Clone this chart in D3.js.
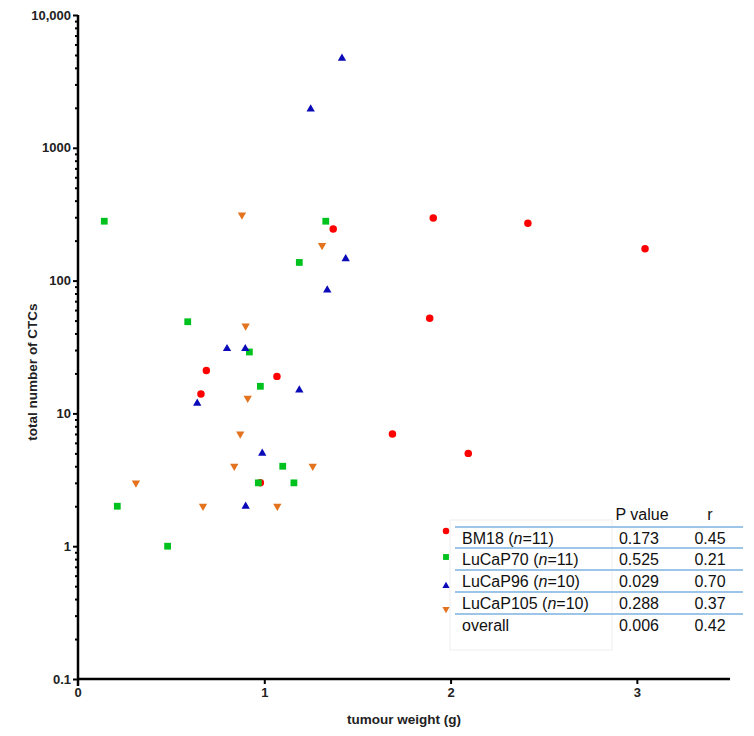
<!DOCTYPE html>
<html><head><meta charset="utf-8">
<script src="https://cdn.jsdelivr.net/npm/d3@7"></script>
<style>body{margin:0;background:#fff}svg{display:block}</style>
</head><body>
<svg id="c" width="754" height="736"></svg>
<script>
// ---- data ----
const seriesNames = ["BM18 (n=11)", "LuCaP70 (n=11)", "LuCaP96 (n=10)", "LuCaP105 (n=10)"];
const bm18X = [1.37, 1.907, 2.415, 3.044, 1.888, 1.688, 2.095, 0.689, 1.068, 0.660, 0.979];
const bm18Y = [245, 296, 270, 174, 52, 7.0, 5.0, 21, 19, 14, 3.0];
const lucap70X = [0.141, 1.330, 1.188, 0.589, 0.920, 0.979, 1.099, 0.968, 1.159, 0.211, 0.481];
const lucap70Y = [280, 280, 137, 49, 29, 16, 4.0, 3.0, 3.0, 2.0, 1.0];
const lucap96X = [1.417, 1.249, 1.437, 1.338, 0.800, 0.898, 1.188, 0.640, 0.989, 0.900];
const lucap96Y = [4720, 1960, 146, 85, 30.7, 30.7, 15, 11.9, 5.0, 2.0];
const lucap105X = [0.880, 1.310, 0.900, 0.911, 0.871, 0.839, 1.260, 0.311, 0.671, 1.070];
const lucap105Y = [312, 184, 45.5, 13, 7.0, 4.0, 4.0, 3.0, 2.0, 2.0];
const pValues = ["0.173", "0.525", "0.029", "0.288", "0.006"];
const rValues = ["0.45", "0.21", "0.70", "0.37", "0.42"];
const yTickValues = [0.1, 1, 10, 100, 1000, 10000];
const yTickLabels = ["0.1", "1", "10", "100", "1000", "10,000"];
const xTickValues = [1, 2, 3];

const series = [
  {name: seriesNames[0], xs: bm18X, ys: bm18Y, color: "#ff0000", sym: d3.symbolCircle, size: 44, rot: 0},
  {name: seriesNames[1], xs: lucap70X, ys: lucap70Y, color: "#00c21e", sym: d3.symbolSquare, size: 46, rot: 0},
  {name: seriesNames[2], xs: lucap96X, ys: lucap96Y, color: "#0a0ab8", sym: d3.symbolTriangle, size: 30, rot: 0},
  {name: seriesNames[3], xs: lucap105X, ys: lucap105Y, color: "#e3731e", sym: d3.symbolTriangle, size: 30, rot: 180}
];

const svg = d3.select("#c");
const x = d3.scaleLinear().domain([0, 3.5]).range([78, 730]);
const y = d3.scaleLog().domain([0.1, 10000]).range([679, 15]);

const tickFont = "Liberation Sans, Arial, sans-serif";
const textFont = "Liberation Sans, Arial, sans-serif";

// minor ticks
const minor = [];
for (let e = -1; e < 4; e++) for (let k = 2; k <= 9; k++) minor.push(k * Math.pow(10, e));
svg.append("g").attr("transform", "translate(78,0)")
  .call(d3.axisLeft(y).tickValues(minor).tickSize(3).tickFormat(""))
  .call(g => g.select(".domain").remove())
  .call(g => g.selectAll("line").attr("stroke", "#000").attr("stroke-width", 2));

// y axis
const yAxis = svg.append("g").attr("transform", "translate(78,0)")
  .call(d3.axisLeft(y).tickValues(yTickValues).tickSize(5).tickPadding(2)
    .tickFormat((d, i) => yTickLabels[i]));
yAxis.select(".domain").attr("d", "M0,15V686").attr("stroke", "#000").attr("stroke-width", 2.5);
yAxis.selectAll("line").attr("stroke", "#000").attr("stroke-width", 2);
yAxis.selectAll("text").attr("font-family", tickFont).attr("font-weight", "bold")
  .attr("font-size", 13).attr("fill", "#222");

// x axis
const xAxis = svg.append("g").attr("transform", "translate(0,679)")
  .call(d3.axisBottom(x).tickValues(xTickValues).tickSize(5).tickPadding(4).tickFormat(d3.format("d")));
xAxis.select(".domain").attr("d", "M78,0H730").attr("stroke", "#000").attr("stroke-width", 2.5);
xAxis.selectAll("line").attr("stroke", "#000").attr("stroke-width", 2);
xAxis.selectAll("text").attr("font-family", tickFont).attr("font-weight", "bold")
  .attr("font-size", 13).attr("fill", "#222");
xAxis.append("text").attr("x", x(0)).attr("y", 9).attr("dy", "0.71em")
  .attr("text-anchor", "middle").attr("font-family", tickFont).attr("font-weight", "bold")
  .attr("font-size", 13).attr("fill", "#222").text("0");

// axis titles
svg.append("text").attr("transform", "translate(37,372) rotate(-90)")
  .attr("text-anchor", "middle").attr("font-family", textFont).attr("font-weight", "bold")
  .attr("font-size", 13.5).attr("fill", "#222").text("total number of CTCs");
svg.append("text").attr("x", 404).attr("y", 724)
  .attr("text-anchor", "middle").attr("font-family", textFont).attr("font-weight", "bold")
  .attr("font-size", 13.5).attr("fill", "#222").text("tumour weight (g)");

// points
series.forEach(s => {
  svg.append("g").selectAll("path").data(s.xs.map((v, i) => [v, s.ys[i]])).join("path")
    .attr("d", d3.symbol().type(s.sym).size(s.size))
    .attr("transform", d => `translate(${x(d[0])},${y(d[1])}) rotate(${s.rot})`)
    .attr("fill", s.color);
});

// legend table
const leg = svg.append("g");
leg.append("rect").attr("x", 450).attr("y", 520).attr("width", 162).attr("height", 130)
  .attr("fill", "none").attr("stroke", "#eeeeee").attr("stroke-width", 1);
const lineYs = [527, 548, 570, 592, 614];
lineYs.forEach(ly => leg.append("line").attr("x1", 455).attr("x2", 743).attr("y1", ly).attr("y2", ly)
  .attr("stroke", "#9cc5e8").attr("stroke-width", 2));
const fs = 16;
leg.append("text").attr("x", 642).attr("y", 520).attr("text-anchor", "middle")
  .attr("font-family", textFont).attr("font-size", fs).attr("fill", "#111").text("P value");
leg.append("text").attr("x", 710).attr("y", 520).attr("text-anchor", "middle")
  .attr("font-family", textFont).attr("font-size", fs).attr("fill", "#111").text("r");
const rowNames = series.map(s => s.name).concat(["overall"]);
const rowYs = [538, 559, 581, 603, 625];
rowNames.forEach((nm, i) => {
  const t = leg.append("text").attr("x", 462).attr("y", rowYs[i]).attr("dy", "0.36em")
    .attr("font-family", textFont).attr("font-size", fs).attr("fill", "#111");
  const m = nm.match(/^(.*\()n(=.*)$/);
  if (m) {
    t.append("tspan").text(m[1]);
    t.append("tspan").attr("font-style", "italic").text("n");
    t.append("tspan").text(m[2]);
  } else t.text(nm);
  leg.append("text").attr("x", 639).attr("y", rowYs[i]).attr("dy", "0.36em").attr("text-anchor", "middle")
    .attr("font-family", textFont).attr("font-size", fs).attr("fill", "#111").text(pValues[i]);
  leg.append("text").attr("x", 710).attr("y", rowYs[i]).attr("dy", "0.36em").attr("text-anchor", "middle")
    .attr("font-family", textFont).attr("font-size", fs).attr("fill", "#111").text(rValues[i]);
});
const legSymYs = [531, 557, 586, 609];
series.forEach((s, i) => {
  leg.append("path").attr("d", d3.symbol().type(s.sym).size(s.size * 0.75))
    .attr("transform", `translate(446,${legSymYs[i]}) rotate(${s.rot})`).attr("fill", s.color);
});
</script>
</body></html>
